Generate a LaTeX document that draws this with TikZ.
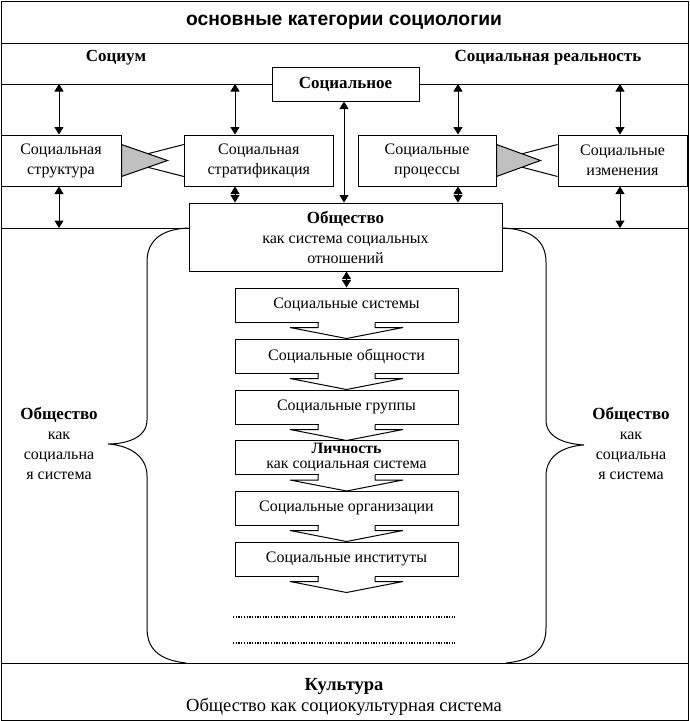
\documentclass[tikz,border=0pt]{standalone}
\usepackage{fontspec}
\setmainfont{Liberation Serif}
\newfontfamily\titlefont{Liberation Sans}
\usetikzlibrary{arrows.meta,calc}
\definecolor{silver}{HTML}{C0C0C0}
\tikzset{
  catbox/.style={draw, inner sep=0pt, align=center, font=\fontsize{16}{20}\selectfont},
  chainbox/.style={catbox, minimum width=223pt, minimum height=34pt},
  twoway/.style={{Triangle[width=9pt,length=7.5pt]}-{Triangle[width=9pt,length=7.5pt]}},
  plain/.style={align=center, font=\fontsize{16}{20}\selectfont},
  heading/.style={align=center, font=\bfseries\fontsize{17}{20}\selectfont}
}
\begin{document}
\begin{tikzpicture}[x=1pt,y=-1pt,line width=1pt]
\useasboundingbox (0,0) rectangle (689,721);
% frame and bands
\draw (1,1) rectangle (688,720);
\draw (1,43) -- (688,43);
\draw (1,663) -- (688,663);
\node[font=\titlefont\bfseries\fontsize{19.3}{22}\selectfont] (title) at (344,22) {основные категории социологии};
\node[heading] (socium) at (116,58) {Социум};
\node[heading] (real) at (548,58) {Социальная реальность};

% upper level
\node[catbox,font=\bfseries\fontsize{17}{20}\selectfont,minimum width=147pt,minimum height=34pt] (soc) at (345.5,84) {Социальное};
\node[catbox,minimum width=120pt,minimum height=51pt] (struct) at (61,160.5) {Социальная\\структура};
\node[catbox,minimum width=149pt,minimum height=51pt] (strat) at (258.8,160.5) {Социальная\\стратификация};
\node[catbox,minimum width=138pt,minimum height=51pt] (proc) at (427,160.5) {Социальные\\процессы};
\node[catbox,minimum width=129pt,minimum height=51pt] (izm) at (622.5,160.5) {Социальные\\изменения};
\node[catbox,minimum width=313pt,minimum height=68pt] (obsh) at (345.5,237) {{\bfseries\fontsize{17}{20}\selectfont Общество}\\как система социальных\\отношений};

\coordinate (upL) at (1,84);
\coordinate (upR) at (688,84);
\coordinate (midL) at (1,228);
\coordinate (midR) at (688,228);
\draw (upL) -- (soc.west);
\draw (soc.east) -- (upR);
\draw (midL) -- (obsh.west |- midL);
\draw (obsh.east |- midR) -- (midR);

% double arrows
\coordinate (a1) at (59,84);
\coordinate (a2) at (235,84);
\coordinate (a3) at (458,84);
\coordinate (a4) at (620,84);
\draw[twoway] (a1) -- (a1 |- struct.north);
\draw[twoway] (a1 |- struct.south) -- (a1 |- midL);
\draw[twoway] (a2) -- (a2 |- strat.north);
\draw[twoway] (a2 |- strat.south) -- (a2 |- obsh.north);
\draw[twoway] (a3) -- (a3 |- proc.north);
\draw[twoway] (a3 |- proc.south) -- (a3 |- obsh.north);
\draw[twoway] (a4) -- (a4 |- izm.north);
\draw[twoway] (a4 |- izm.south) -- (a4 |- midR);
\draw[twoway] ([xshift=-1.5pt]soc.south) -- ([xshift=-1.5pt]soc.south |- obsh.north);

% gray wedges
\draw (struct.east) -- ($(strat.west)+(0,-16)$);
\draw (struct.east) -- ($(strat.west)+(0,16)$);
\filldraw[fill=silver] ($(struct.east)+(0,-16)$) -- ($(struct.east)+(46,0)$) -- ($(struct.east)+(0,16)$) -- cycle;
\draw (proc.east) -- ($(izm.west)+(0,-16)$);
\draw (proc.east) -- ($(izm.west)+(0,16)$);
\filldraw[fill=silver] ($(proc.east)+(0,-16)$) -- ($(proc.east)+(44,0)$) -- ($(proc.east)+(0,16)$) -- cycle;

% chain of levels
\node[chainbox] (sys) at (346.5,305) {Социальные системы};
\node[chainbox] (obshn) at (346.5,356) {Социальные общности};
\node[chainbox] (grp) at (346.5,407) {Социальные группы};
\node[chainbox,font=\fontsize{15.8}{14.5}\selectfont] (lich) at (346.5,457.5) {\textbf{Личность}\\как социальная система};
\node[chainbox] (org) at (346.5,508) {Социальные организации};
\node[chainbox] (inst) at (346.5,559) {Социальные институты};
\draw[twoway] (obsh.south -| sys.north) -- (sys.north);
\foreach \n in {sys,obshn,grp,lich,org,inst}{
  \fill[white] ($(\n.south)+(-28,-1)$) rectangle ($(\n.south)+(28,1)$);
  \draw ($(\n.south)+(-28.5,0)$) -- ++(0,5) -- ++(-28,0) -- ($(\n.south)+(0,16)$)
        -- ($(\n.south)+(56.5,5)$) -- ++(-28,0) -- ++(0,-5);
}
\draw[line width=1.3pt,dash pattern=on 1.3pt off 1.4pt] (233,617) -- (455,617);
\draw[line width=1.3pt,dash pattern=on 1.3pt off 1.4pt] (233,643) -- (455,643);

% braces
\draw (obsh.west |- midL) .. controls (162,229) and (147,240) .. (147,262) -- (147,420)
  .. controls (147,438) and (126,444) .. (108,444) .. controls (126,445) and (147,454) .. (147,476)
  -- (147,628) .. controls (147,648) and (158,660) .. (186,663);
\draw (obsh.east |- midR) .. controls (530,229) and (546,240) .. (546,262) -- (546,420)
  .. controls (546,438) and (566,444) .. (584,445) .. controls (566,446) and (546,454) .. (546,476)
  -- (546,628) .. controls (546,648) and (535,660) .. (506,663);
\node[plain] (leftsoc) at (59,443) {{\bfseries\fontsize{17}{20}\selectfont Общество}\\как\\социальна\\я система};
\node[plain] (rightsoc) at (631,443) {{\bfseries\fontsize{17}{20}\selectfont Общество}\\как\\социальна\\я система};

% culture band
\node[plain,font=\fontsize{18.5}{21}\selectfont] (cult) at (344,697) {\textbf{Культура}\\Общество как социокультурная система};
\end{tikzpicture}
\end{document}
